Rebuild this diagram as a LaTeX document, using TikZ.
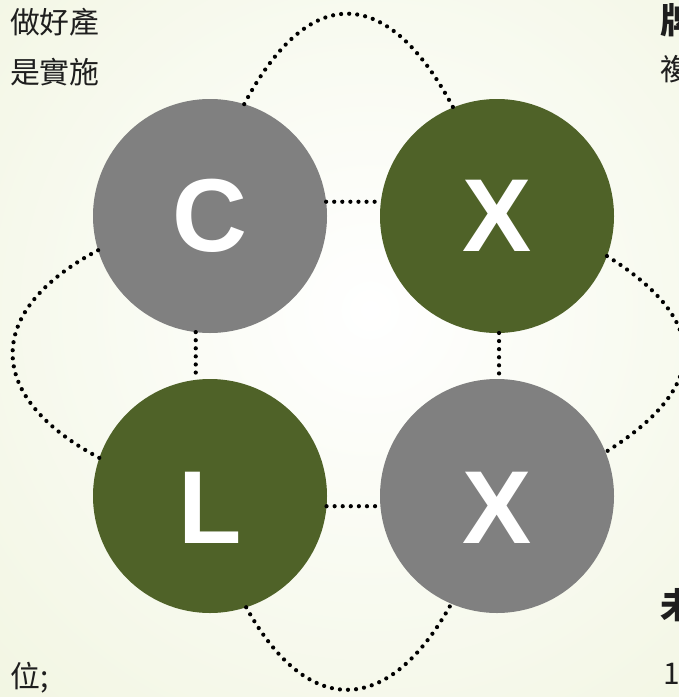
\documentclass[tikz,border=0pt]{standalone}
\usepackage{fontspec}
\setsansfont{Liberation Sans}
\newfontfamily\cjk{Noto Sans CJK TC}
\usepackage{tikz}
\usetikzlibrary{positioning}
\definecolor{ringgray}{HTML}{808080}
\definecolor{ringgreen}{HTML}{4F6228}
\definecolor{paper}{HTML}{EEF3DA}
\definecolor{ink}{HTML}{1E1E1E}

\begin{document}
\begin{tikzpicture}[
  ring/.style={circle, minimum size=4.68cm, inner sep=0pt, outer sep=0pt, text=white,
    font=\sffamily\bfseries\fontsize{59}{60}\selectfont},
  grayring/.style={ring, fill=ringgray},
  greenring/.style={ring, fill=ringgreen},
  low/.style={text height=1.89cm},
  dots/.style={line width=2.4pt, line cap=round, dash pattern=on 0pt off 4.6pt},
  side/.style={inner sep=0pt, text=ink, font=\cjk\fontsize{17}{20}\selectfont},
  head/.style={side, font=\cjk\bfseries\fontsize{20}{24}\selectfont}
]
\useasboundingbox (0,0) rectangle (13.58,-13.94);
\clip (0,0) rectangle (13.58,-13.94);
\fill[paper] (0,0) rectangle (13.58,-13.94);
\shade[inner color=white, outer color=paper] (7.4,-6.2) circle (14cm);

% the four rings
\node[grayring] (C) at (4.2,-4.32) {C};
\node[greenring, right=1.06cm of C] (X1) {X};
\node[greenring, low, below=0.92cm of C] (L) {L};
\node[grayring, low, below=0.92cm of X1] (X2) {X};

% inner links
\draw[dots] (C.7) -- (X1.173);
\draw[dots] (L.-5) -- (X2.185);
\draw[dots] (C.263) -- (L.97);
\draw[dots] (X1.-89) -- (X2.89);

% outer loops
\draw[dots] (C.73) to[out=62, in=118, looseness=1.7] (X1.112);
\draw[dots] (C.197) to[out=208, in=152, looseness=1.6] (L.161);
\draw[dots] (X1.-20) to[out=-32, in=32, looseness=1.6] (X2.22);
\draw[dots] (L.-72) to[out=-61, in=-119, looseness=1.6] (X2.-113);

% text cut by the frame
\node[side, anchor=east] (t1) at (2.0,-0.44) {做好產};
\node[side, anchor=east] (t2) at (2.0,-1.44) {是實施};
\node[head, anchor=west] (h1) at (13.2,-0.4) {牌};
\node[side, anchor=west] (t3) at (13.2,-1.38) {複};
\node[head, anchor=west] (h2) at (13.2,-12.1) {未};
\node[side, anchor=west] (t4) at (13.26,-13.48) {1};
\node[side, anchor=west] (t5) at (0.2,-13.56) {位;};
\end{tikzpicture}
\end{document}
